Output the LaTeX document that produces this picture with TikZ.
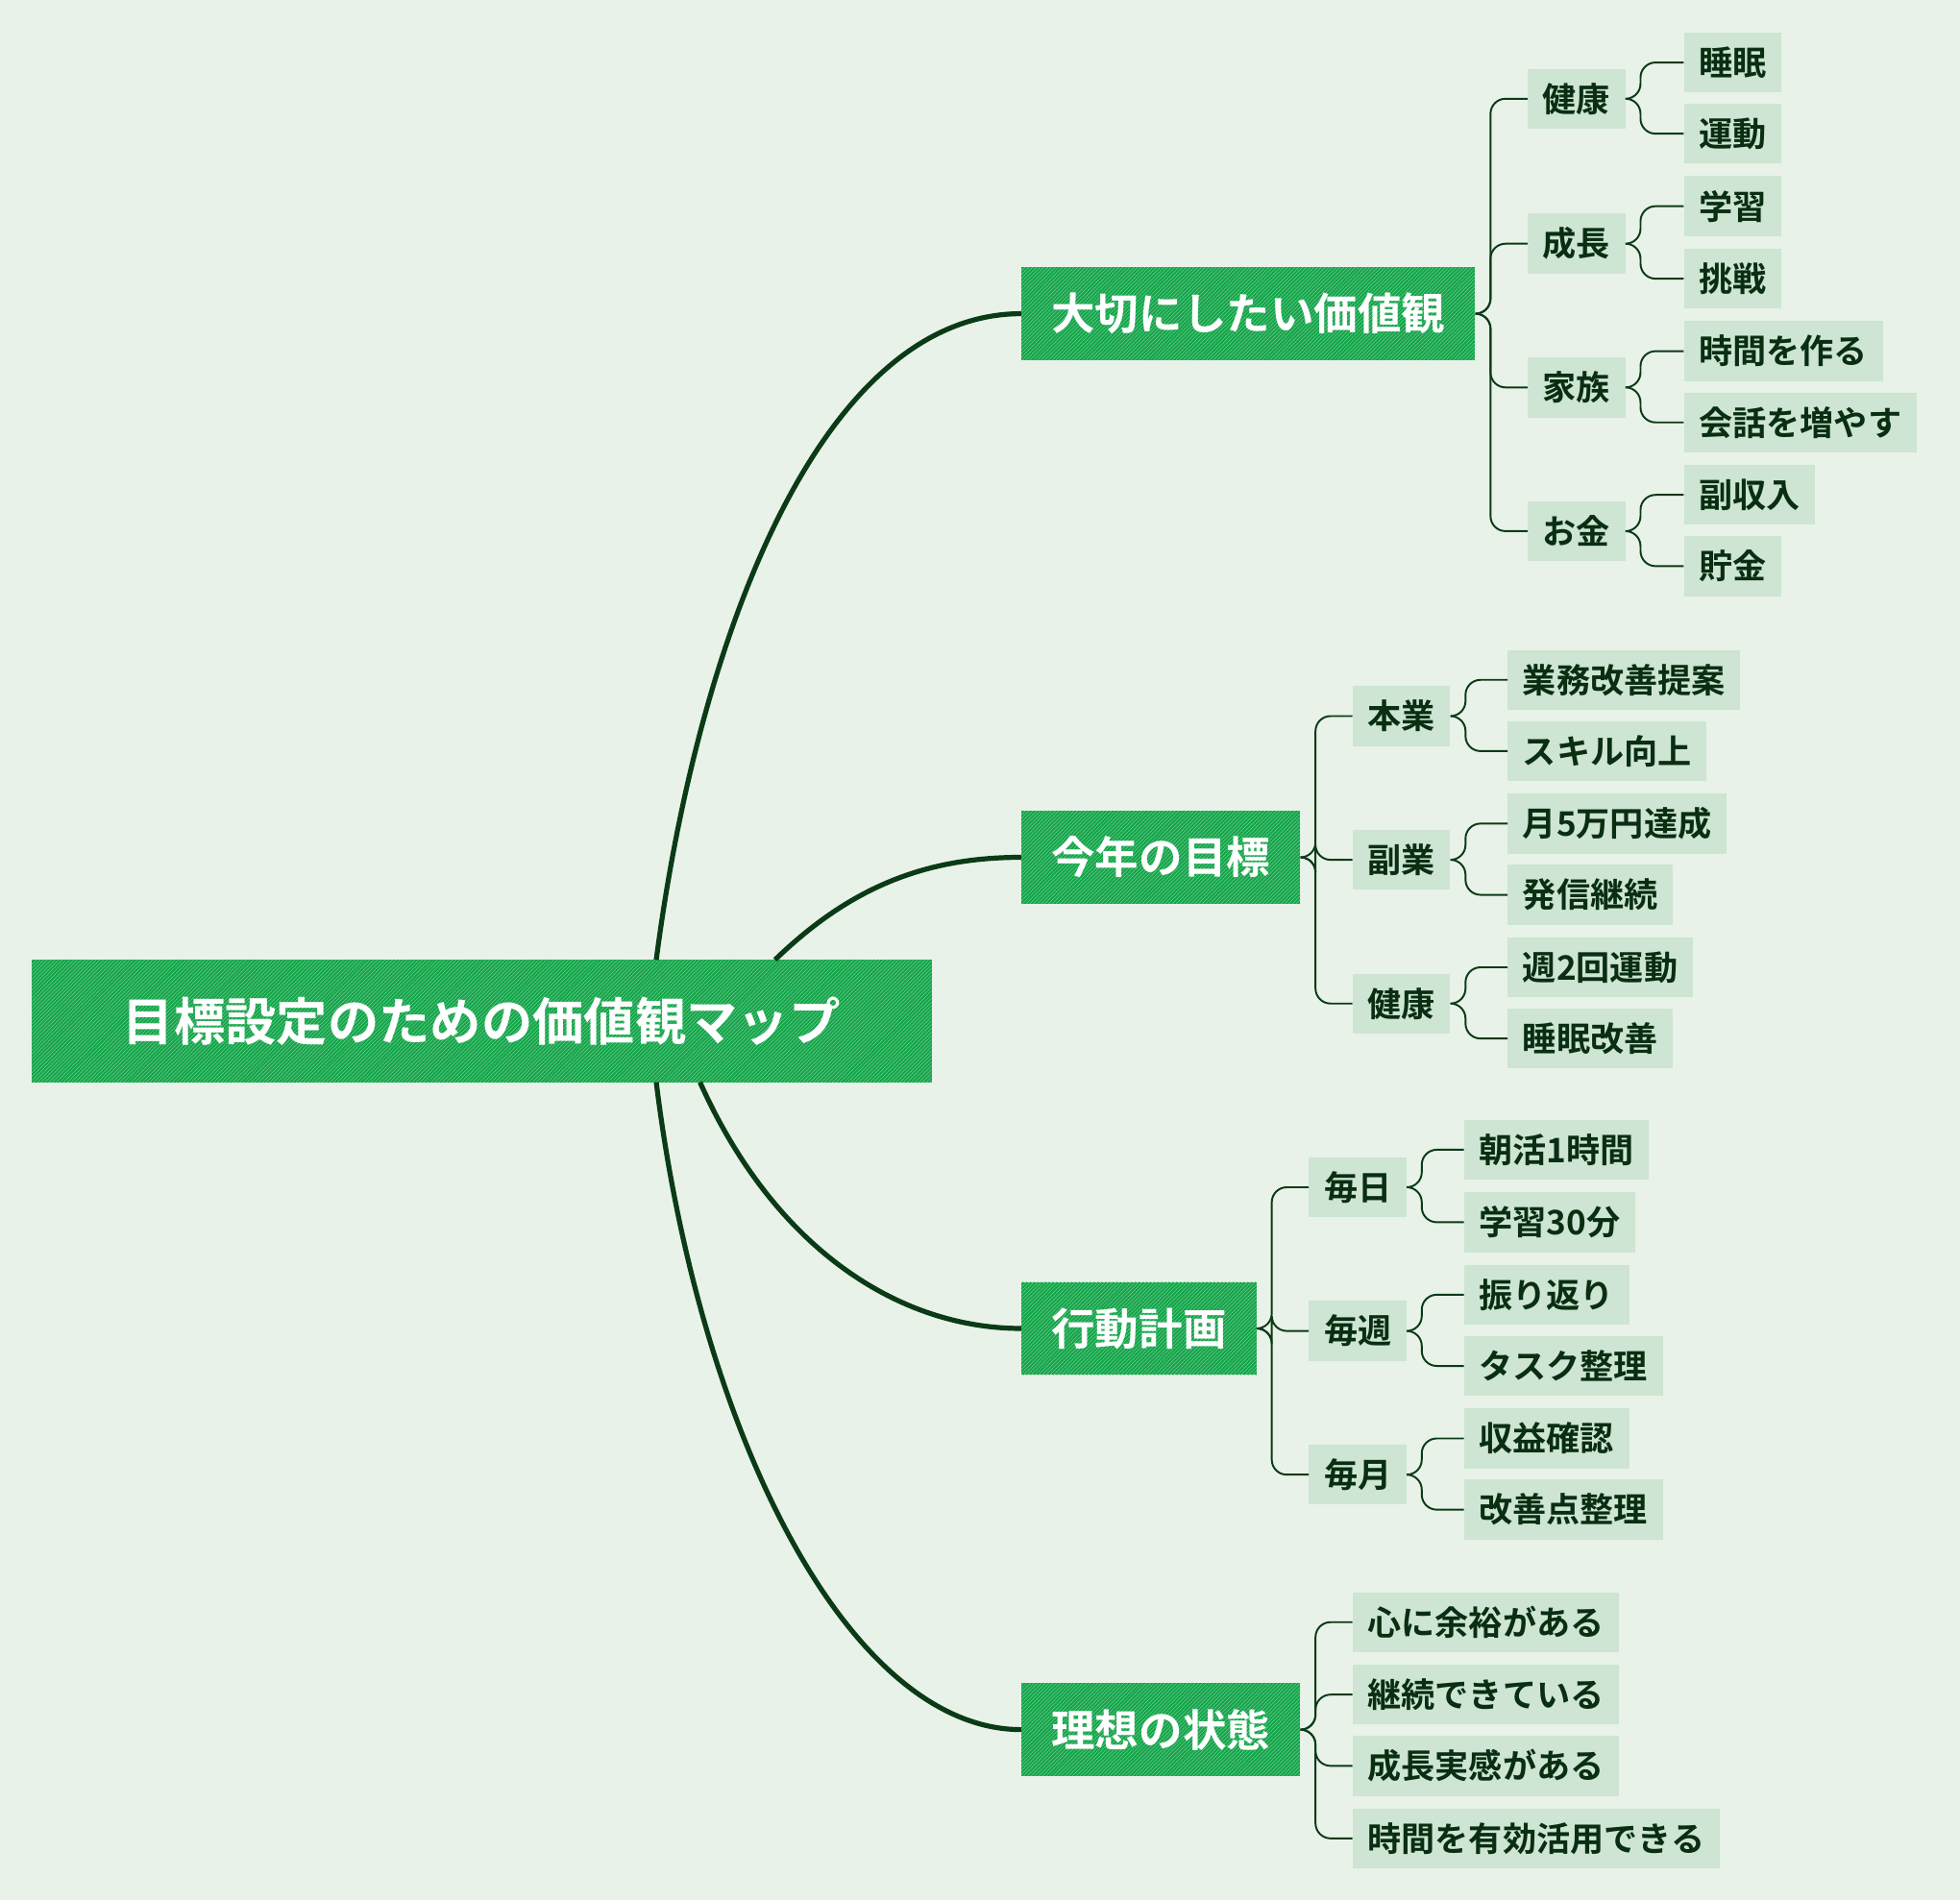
\documentclass[tikz,border=0pt]{standalone}
\usepackage{fontspec}
\setmainfont{Noto Sans CJK JP}[BoldFont={Noto Sans CJK JP Bold}]
\usetikzlibrary{patterns}
\definecolor{bgcol}{HTML}{E8F2E8}
\definecolor{maingreen}{HTML}{12A548}
\definecolor{leafgreen}{HTML}{CDE5D2}
\definecolor{darkline}{HTML}{0B3A17}
\tikzset{%
    rootbox/.style={fill=maingreen, text=white, anchor=west, inner sep=0pt,
        minimum height=98pt, font=\bfseries\fontsize{41}{41}\selectfont,
        postaction={pattern=north east lines, pattern color=white!40!maingreen}},
    branchbox/.style={fill=maingreen, text=white, anchor=west, inner xsep=24pt,
        inner ysep=0pt, minimum height=74pt,
        font=\bfseries\fontsize{35}{35}\selectfont,
        postaction={pattern=north east lines, pattern color=white!40!maingreen}},
    leafbox/.style={fill=leafgreen, text=darkline!80!black, anchor=west,
        inner xsep=12pt, inner ysep=0pt, minimum height=48pt,
        font=\bfseries\fontsize{27}{27}\selectfont},
    mainlink/.style={draw=darkline, line width=4pt},
    sublink/.style={draw=darkline, line width=1.5pt, rounded corners=12pt}
}
\begin{document}
\begin{tikzpicture}[x=1pt, y=-1pt]
    \fill[bgcol] (0, 0) rectangle (1568, 1520);
    \useasboundingbox (0, 0) rectangle (1568, 1520);

    % Root
    \node[rootbox, minimum width=720pt] (root) at (25, 817)
        {目標設定のための価値観マップ};

    % Branches
    \node[branchbox] (values) at (817, 251) {大切にしたい価値観};
    \node[branchbox] (goals) at (817, 686) {今年の目標};
    \node[branchbox] (plan) at (817, 1063) {行動計画};
    \node[branchbox] (ideal) at (817, 1384) {理想の状態};

    % Connecting root to branches
    \draw[mainlink] (525, 768) coordinate (r1)
        .. controls (560, 500) and (660, 251) .. (values.west);
    \draw[mainlink] (620, 768) coordinate (r2)
        .. controls (680, 710) and (740, 686) .. (goals.west);
    \draw[mainlink] (560, 866) coordinate (r3)
        .. controls (620, 1000) and (720, 1063) .. (plan.west);
    \draw[mainlink] (525, 866) coordinate (r4)
        .. controls (560, 1150) and (680, 1384) .. (ideal.west);

    % Second level
    \foreach \name/\y/\txt/\up in {%
            health/79/健康/values, growth/195/成長/values,
            family/310/家族/values, money/425/お金/values}{%
        \node[leafbox] (\name) at (1222, \y) {\txt};
        \draw[sublink] (\up.east) -- ++(12, 0) |- (\name.west);
    }
    \foreach \name/\y/\txt/\up in {%
            job/573/本業/goals, side/688/副業/goals, body/803/健康/goals}{%
        \node[leafbox] (\name) at (1082, \y) {\txt};
        \draw[sublink] (\up.east) -- ++(12, 0) |- (\name.west);
    }
    \foreach \name/\y/\txt/\up in {%
            daily/950/毎日/plan, weekly/1065/毎週/plan, monthly/1180/毎月/plan}{%
        \node[leafbox] (\name) at (1047, \y) {\txt};
        \draw[sublink] (\up.east) -- ++(12, 0) |- (\name.west);
    }

    % Leaves
    \foreach \name/\y/\txt/\up in {%
            sleep/50/睡眠/health, sport/107/運動/health,
            learn/165/学習/growth, try/223/挑戦/growth,
            time/281/時間を作る/family, talk/338/会話を増やす/family,
            income/396/副収入/money, save/453/貯金/money}{%
        \node[leafbox] (\name) at (1347, \y) {\txt};
        \draw[sublink] (\up.east) -- ++(12, 0) |- (\name.west);
    }
    \foreach \name/\y/\txt/\up in {%
            improve/544/業務改善提案/job, skill/601/スキル向上/job,
            earn/659/月5万円達成/side, post/716/発信継続/side,
            workout/774/週2回運動/body, rest/831/睡眠改善/body}{%
        \node[leafbox] (\name) at (1206, \y) {\txt};
        \draw[sublink] (\up.east) -- ++(12, 0) |- (\name.west);
    }
    \foreach \name/\y/\txt/\up in {%
            morning/920/朝活1時間/daily, study/978/学習30分/daily,
            review/1036/振り返り/weekly, tasks/1093/タスク整理/weekly,
            profit/1151/収益確認/monthly, fix/1208/改善点整理/monthly}{%
        \node[leafbox] (\name) at (1171, \y) {\txt};
        \draw[sublink] (\up.east) -- ++(12, 0) |- (\name.west);
    }
    \foreach \name/\y/\txt in {%
            calm/1298/心に余裕がある, keep/1356/継続できている,
            feel/1413/成長実感がある, use/1471/時間を有効活用できる}{%
        \node[leafbox] (\name) at (1082, \y) {\txt};
        \draw[sublink] (ideal.east) -- ++(12, 0) |- (\name.west);
    }

\end{tikzpicture}
\end{document}
